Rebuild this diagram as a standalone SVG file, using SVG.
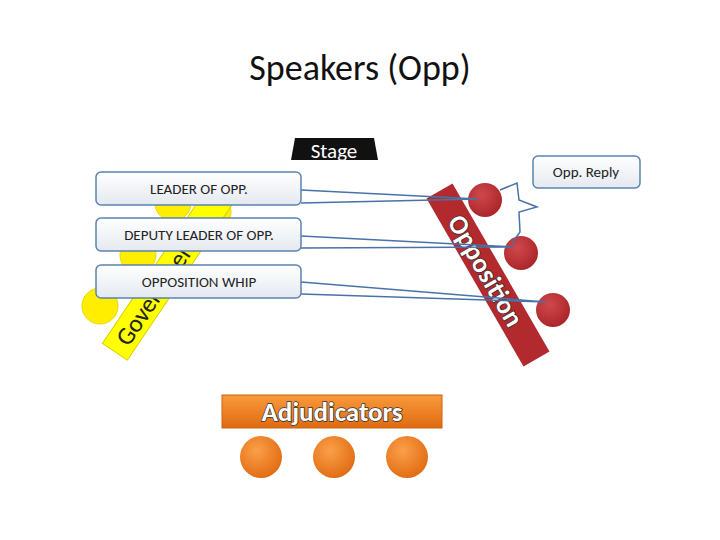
<svg xmlns="http://www.w3.org/2000/svg" width="720" height="540" viewBox="0 0 720 540">
<defs>
<linearGradient id="box" x1="0" y1="0" x2="0" y2="1"><stop offset="0" stop-color="#ffffff"/><stop offset="1" stop-color="#e4e9f0"/></linearGradient>
<radialGradient id="red" cx="0.4" cy="0.35" r="0.7"><stop offset="0" stop-color="#d0484c"/><stop offset="1" stop-color="#a82428"/></radialGradient>
<radialGradient id="org" cx="0.4" cy="0.35" r="0.7"><stop offset="0" stop-color="#fba04a"/><stop offset="1" stop-color="#e06a10"/></radialGradient>
<linearGradient id="obar" x1="0" y1="0" x2="0" y2="1"><stop offset="0" stop-color="#f89a3c"/><stop offset="1" stop-color="#e06a10"/></linearGradient>
</defs>
<style>
.cb{fill:url(#box);stroke:#5b82b0;stroke-width:1.5}
.lbl{font-family:Carlito,"Liberation Sans",Arial,sans-serif;font-size:15px;fill:#222;text-anchor:middle}
.yc{fill:#ffee00;stroke:#e8d800;stroke-width:1}
.rc{fill:url(#red)}
.oc{fill:url(#org)}
.w{stroke:#4a72a8;stroke-width:1.5;fill:none}
</style>
<rect width="720" height="540" fill="#fff"/>
<text x="360" y="80" font-family="Carlito,'Liberation Sans',sans-serif" font-size="36" text-anchor="middle" fill="#111">Speakers (Opp)</text>

<g id="stage">
<polygon points="295,138 374,138 378,160 291,160" fill="#111"/>
<text x="334" y="158" font-family="Carlito,'Liberation Sans',sans-serif" font-size="21" fill="#fff" text-anchor="middle">Stage</text>
</g>

<g id="government">
<circle class="yc" cx="173" cy="203" r="18"/>
<circle class="yc" cx="213" cy="212" r="18"/>
<circle class="yc" cx="138" cy="255" r="18"/>
<circle class="yc" cx="100" cy="306" r="18"/>
<g transform="translate(168,273) rotate(-56)">
<rect x="-95" y="-15" width="190" height="30" fill="#ffff00" stroke="#d8d000"/>
<text x="-20" y="9" font-family="Carlito,'Liberation Sans',sans-serif" font-size="25" fill="#222" text-anchor="middle">Government</text>
</g>
</g>

<g id="opposition">
<g transform="translate(488,275) rotate(60)">
<rect x="-97" y="-15" width="194" height="30" fill="#b22a2e"/>
<text x="-5" y="9" font-family="Carlito,'Liberation Sans',sans-serif" font-weight="bold" font-size="27" fill="#fff" stroke="#222" stroke-width="1.2" paint-order="stroke" text-anchor="middle">Opposition</text>
</g>
<circle class="rc" cx="485" cy="200" r="17"/>
<circle class="rc" cx="521" cy="253" r="17"/>
<circle class="rc" cx="553" cy="310" r="17"/>
</g>

<g id="connectors">
<path class="w" d="M301,190 L478,199 M301,203 L478,199"/>
<path class="w" d="M301,236 L514,247 M301,248 L514,247"/>
<path class="w" d="M301,282 L546,302 M301,294 L546,302"/>
<path class="w" stroke-width="1" d="M500,190 L517,183 L519,200 L537,207 L519,212 L520,232 L512,243"/>
</g>

<g id="leader"><rect class="cb" x="96" y="172" width="205" height="33" rx="5"/><text class="lbl" x="199" y="194">LEADER OF OPP.</text></g>
<g id="deputy"><rect class="cb" x="96" y="218" width="205" height="33" rx="5"/><text class="lbl" x="199" y="240">DEPUTY LEADER OF OPP.</text></g>
<g id="whip"><rect class="cb" x="96" y="265" width="205" height="33" rx="5"/><text class="lbl" x="199" y="287">OPPOSITION WHIP</text></g>
<g id="reply"><rect class="cb" x="533" y="156" width="107" height="32" rx="5"/><text class="lbl" x="586" y="177">Opp. Reply</text></g>

<g id="adjudicators">
<rect x="222" y="395" width="220" height="33" fill="url(#obar)" stroke="#d06010"/>
<text x="332" y="421" font-family="Carlito,'Liberation Sans',sans-serif" font-weight="bold" font-size="27" fill="#fff" stroke="#333" stroke-width="1.5" paint-order="stroke" text-anchor="middle">Adjudicators</text>
<circle class="oc" cx="261" cy="457" r="21"/>
<circle class="oc" cx="334" cy="457" r="21"/>
<circle class="oc" cx="407" cy="457" r="21"/>
</g>
</svg>
